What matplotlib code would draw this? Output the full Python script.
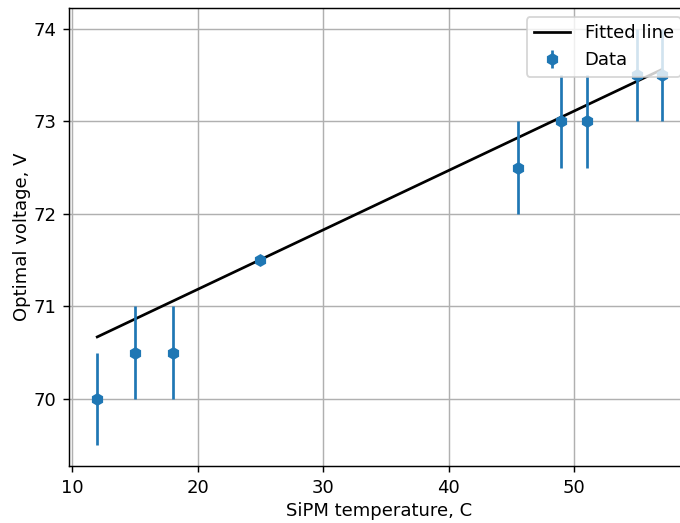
import matplotlib
matplotlib.use("Agg")
import matplotlib.pyplot as plt

temperature = [12, 15, 18, 25, 45.5, 49, 51, 55, 57]
voltage = [70.0, 70.5, 70.5, 71.5, 72.5, 73.0, 73.0, 73.5, 73.5]
voltage_err = [0.5, 0.5, 0.5, 0.02, 0.5, 0.5, 0.5, 0.5, 0.5]
fit_x = [12, 57]
fit_y = [70.67, 73.56]

DPI = 130
fig = plt.figure(figsize=(680 / DPI, 523 / DPI), dpi=DPI)
ax = fig.add_axes([69 / 680, 1 - 466 / 523, (690 - 69) / 680, (466 - 8) / 523])

ax.plot(fit_x, fit_y, color="black", label="Fitted line")
ax.errorbar(temperature, voltage, yerr=voltage_err, fmt="h", color="C0", label="Data")

ax.set_xlabel("SiPM temperature, C", labelpad=2.9)
ax.set_ylabel("Optimal voltage, V", labelpad=1.3)
ax.grid(True)
ax.legend(loc="upper right")

fig.savefig("out.png", dpi=DPI)
